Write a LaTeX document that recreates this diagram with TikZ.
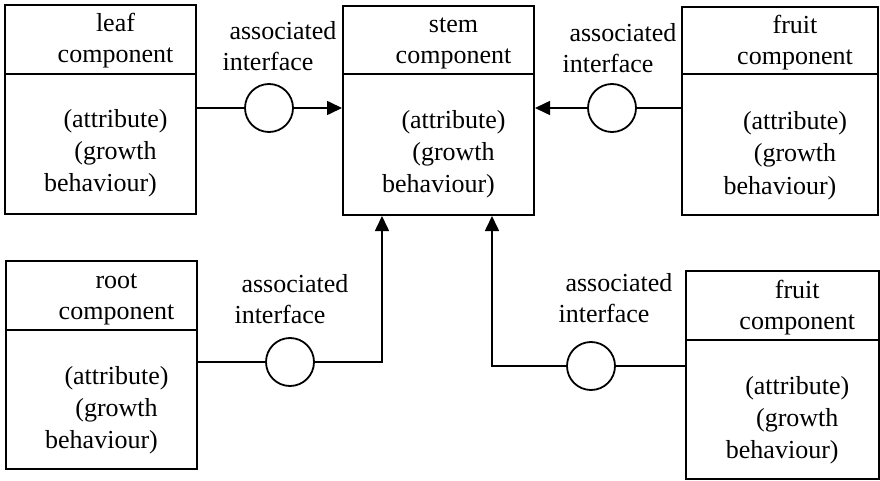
\documentclass[tikz,border=0pt]{standalone}
\usepackage{fontspec}
\setmainfont{Liberation Serif}
\usetikzlibrary{arrows.meta,fit}

% #1 name, #2 left, #3 top, #4 right, #5 bottom, #6 divider y, #7 title word
\newcommand\compbox[7]{%
  \node[box, fit={(#2,#3) (#4,#5)}] (#1) {};
  \draw[divider] (#1.west |- 0,#6) -- (#1.east |- 0,#6);
  \pgfmathsetmacro\cx{(#2+#4)/2}
  \node[txt] (#1-name) at (\cx+15,#3+27) {#7};
  \node[txt] (#1-kind) at (\cx+15,#3+58) {component};
  \node[txt] (#1-attr) at (\cx+15,#3+123) {(attribute)};
  \node[txt] (#1-grow) at (\cx+15,#3+155) {(growth};
  \node[txt] (#1-behv) at (\cx,#3+187) {behaviour)};
}
% #1 name, #2 x of "interface", #3 baseline of "associated"
\newcommand\ifacelabel[3]{%
  \node[txt] (#1-a) at (#2+15,#3) {associated};
  \node[txt] (#1-b) at (#2,#3+31) {interface};
}

\begin{document}
\begin{tikzpicture}[x=1pt,y=-1pt,
  box/.style={draw, line width=2pt, inner sep=0pt},
  divider/.style={line width=2pt},
  txt/.style={anchor=base, inner sep=0pt, font=\fontsize{26}{32}\selectfont},
  iface/.style={draw, circle, line width=1.8pt, minimum size=48pt, inner sep=0pt},
  conn/.style={line width=1.6pt},
  flow/.style={conn, -{Triangle[length=15pt,width=14pt]}}]
\useasboundingbox (0,0) rectangle (880,481);

% components
\compbox{leaf}{5}{5}{196}{214}{74}{leaf}
\compbox{stem}{343}{6}{534}{215}{74}{stem}
\compbox{fruitA}{682}{7}{878}{215}{74}{fruit}
\compbox{root}{6}{261}{197}{469}{330}{root}
\compbox{fruitB}{686}{271}{878.5}{479}{340}{fruit}

% interfaces
\node[iface] (i1) at (269,108) {};
\node[iface] (i2) at (612,108) {};
\node[iface] (i3) at (290,362) {};
\node[iface] (i4) at (591,366) {};

\ifacelabel{l1}{268}{40}
\ifacelabel{l2}{608}{42}
\ifacelabel{l3}{280}{292}
\ifacelabel{l4}{604}{291}

% connectors
\coordinate (k3) at (382,362);
\coordinate (k4) at (492,366);
\draw[conn] (leaf.east |- i1) -- (i1);
\draw[flow] (i1) -- (stem.west |- i1);
\draw[conn] (fruitA.west |- i2) -- (i2);
\draw[flow] (i2) -- (stem.east |- i2);
\draw[conn] (root.east |- i3) -- (i3);
\draw[flow] (i3) -- (k3) -- (k3 |- stem.south);
\draw[conn] (fruitB.west |- i4) -- (i4);
\draw[flow] (i4) -- (k4) -- (k4 |- stem.south);
\end{tikzpicture}
\end{document}
